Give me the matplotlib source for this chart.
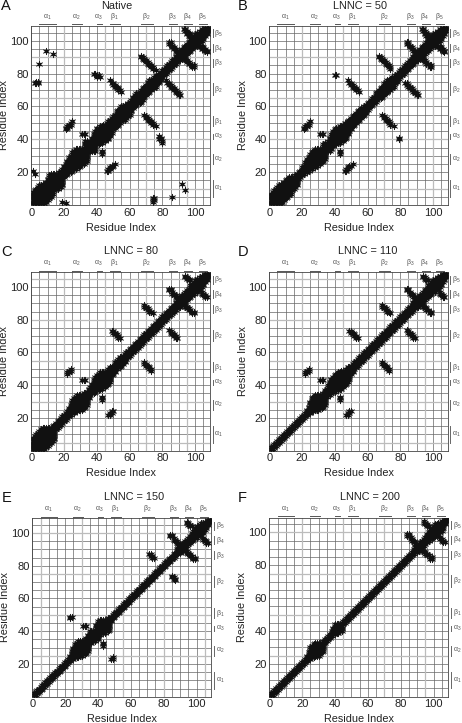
import matplotlib
matplotlib.use("Agg")
import matplotlib.pyplot as plt
import numpy as np

plt.rcParams['font.family'] = ['Liberation Sans', 'DejaVu Sans']
plt.rcParams['mathtext.fontset'] = 'custom'
plt.rcParams['mathtext.rm'] = 'Liberation Sans'
plt.rcParams['mathtext.it'] = 'Liberation Sans'

W, H = 462, 723

titles = ["Native", "LNNC = 50", "LNNC = 80", "LNNC = 110", "LNNC = 150", "LNNC = 200"]
letters = ["A", "B", "C", "D", "E", "F"]

# secondary structure, residue ranges
sec_names = [r"$\alpha_1$", r"$\alpha_2$", r"$\alpha_3$", r"$\beta_1$",
             r"$\beta_2$", r"$\beta_3$", r"$\beta_4$", r"$\beta_5$"]
sec_start = [5, 25, 40, 48, 67, 84, 93, 102]
sec_end = [15, 31, 43, 54, 74, 89, 98, 107]

# how far contacts reach from the diagonal, residues 1..108
upper_reach = [2, 2, 3, 3, 4, 3, 3, 3, 3, 3, 3, 4, 4, 4, 4, 4, 3, 3, 3, 2, 2, 1, 0]
native_reach = [7, 7, 7, 7, 7, 6, 6, 5, 5, 6, 7, 7, 6, 5, 4, 3, 3, 3, 3, 4,
                4, 5, 6, 6, 7, 7, 7, 6, 5, 4, 3, 3, 6, 5, 3, 3, 4, 5, 6, 7,
                6, 6, 5, 5, 4, 4, 4, 4, 4, 4, 4, 5, 5, 5, 5, 4, 4, 3, 3, 3,
                3, 4, 4, 4, 3, 3, 3, 3, 3, 3, 4, 4, 3, 3, 3, 3, 2, 2, 2, 2,
                2, 2, 2, 2, 2] + upper_reach
lnnc50_reach = [6, 6, 6, 6, 6, 6, 6, 5, 5, 5, 5, 5, 4, 3, 2, 2, 2, 2, 2, 3,
                3, 4, 5, 5, 6, 6, 6, 6, 5, 4, 3, 2, 4, 4, 3, 3, 4, 5, 6, 6,
                6, 5, 5, 4, 4, 4, 3, 3, 3, 3, 3, 3, 3, 3, 3, 3, 2, 2, 2, 2,
                2, 2, 2, 2, 3, 3, 3, 3, 3, 4, 4, 4, 3, 3, 3, 2, 2, 2, 2, 2,
                2, 2, 2, 2, 2] + upper_reach
lnnc80_reach = [7, 7, 7, 7, 7, 7, 7, 6, 5, 4, 3, 2, 2, 2, 2, 2, 2, 2, 2, 2,
                2, 2, 3, 4, 6, 6, 6, 6, 5, 4, 3, 3, 2, 2, 3, 3, 4, 5, 6, 6,
                6, 6, 5, 4, 3, 3, 3, 3, 2, 2, 3, 3, 3, 3, 2, 2, 2, 2, 2, 2,
                2, 2, 2, 2, 2, 2, 2, 2, 2, 2, 2, 2, 2, 2, 2, 2, 2, 2, 2, 2,
                2, 2, 2, 2, 2] + upper_reach
lnnc110_reach = [1, 1, 1, 1, 1, 1, 1, 1, 1, 1, 1, 1, 1, 1, 1, 1, 1, 1, 1, 1,
                 1, 1, 2, 3, 5, 6, 6, 6, 5, 4, 3, 2, 2, 3, 3, 4, 5, 6, 6, 6,
                 6, 6, 5, 5, 4, 3, 3, 3, 2, 2, 2, 2, 2, 2, 2, 2, 2, 2, 2, 2,
                 2, 2, 2, 2, 2, 2, 2, 2, 2, 2, 2, 2, 2, 2, 2, 2, 2, 2, 2, 2,
                 2, 2, 2, 2, 2] + upper_reach
lnnc150_reach = [1, 1, 1, 1, 1, 1, 1, 1, 1, 1, 1, 1, 1, 1, 1, 1, 1, 1, 1, 1,
                 1, 1, 2, 4, 5, 6, 6, 6, 5, 4, 3, 2, 3, 4, 5, 4, 3, 3, 5, 6,
                 6, 5, 4, 3, 2, 2, 1, 1, 1, 1, 1, 1, 1, 1, 1, 1, 1, 1, 1, 1,
                 1, 1, 1, 1, 1, 1, 1, 1, 1, 1, 1, 1, 1, 1, 1, 1, 1, 1, 1, 1,
                 1, 1, 1, 1, 1, 1, 1, 2, 3, 3, 2, 2, 2, 2, 2, 2, 3, 3, 4, 4,
                 3, 3, 3, 2, 2, 1, 1, 0]
lnnc200_reach = [1, 1, 1, 1, 1, 1, 1, 1, 1, 1, 1, 1, 1, 1, 1, 1, 1, 1, 1, 1,
                 1, 1, 2, 3, 5, 5, 5, 5, 4, 3, 2, 1, 1, 1, 1, 1, 1, 2, 3, 4,
                 3, 2, 1, 1, 1, 1, 1, 1, 1, 1, 1, 1, 1, 1, 1, 1, 1, 1, 1, 1,
                 1, 1, 1, 1, 1, 1, 1, 1, 1, 1, 1, 1, 1, 1, 1, 1, 1, 1, 1, 1,
                 1, 1, 1, 1, 1, 1, 1, 2, 2, 2, 2, 2, 2, 2, 2, 3, 3, 4, 4, 4,
                 4, 3, 3, 2, 2, 1, 1, 0]
reaches = [native_reach, lnnc50_reach, lnnc80_reach, lnnc110_reach, lnnc150_reach, lnnc200_reach]

# off-diagonal contacts, residue i against residue j (mirrored when drawn)
hairpin_i = [84, 84, 85, 85, 86, 86, 87, 87, 88, 88, 89, 89, 90, 90, 91]
hairpin_j = [99, 98, 99, 98, 97, 96, 96, 95, 95, 94, 94, 93, 93, 92, 92]
sheet45_i = [94, 94, 95, 95, 96, 96, 97]
sheet45_j = [107, 106, 106, 105, 105, 104, 104]
long45_i = [93, 94, 95, 96, 97, 98, 98]
long45_j = [107, 107, 104, 103, 103, 102, 101]

b23_i = [67, 67, 68, 68, 69, 69, 70, 70, 71, 71, 72, 72, 73, 73, 74, 74]
b23_j = [91, 90, 90, 89, 89, 88, 88, 87, 87, 86, 86, 85, 85, 84, 84, 83]
b23_short_i = [69, 69, 70, 70, 71, 71, 72, 72, 73, 74]
b23_short_j = [89, 88, 88, 87, 87, 86, 86, 85, 85, 84]
b23_blob_i = [71, 72, 72, 73, 73, 74]
b23_blob_j = [87, 87, 86, 86, 85, 85]

b12_i = [48, 49, 50, 50, 51, 51, 52, 52, 53, 53, 54, 55]
b12_j = [76, 74, 74, 73, 73, 72, 72, 71, 71, 70, 70, 69]
b12_short_i = [49, 50, 50, 51, 51, 52, 52, 53, 53, 54]
b12_short_j = [73, 73, 72, 72, 71, 71, 70, 70, 69, 69]

a2b1_i = [21, 21, 22, 22, 23, 23, 24, 24, 25]
a2b1_j = [46, 47, 47, 48, 48, 49, 49, 50, 51]
a2b1_short_i = [22, 22, 23, 23, 24, 24]
a2b1_short_j = [47, 48, 48, 49, 49, 50]
a2b1_blob_i = [23, 23, 24]
a2b1_blob_j = [48, 49, 49]

a3_i = [31, 32, 33]
a3_j = [43, 43, 43]

native_extra_i = [38, 39, 40, 41, 42, 40, 2, 3, 4, 3, 4, 5, 9, 13, 1, 2, 76]
native_extra_j = [80, 80, 79, 79, 78, 78, 74, 74, 74, 75, 75, 86, 94, 92, 21, 19, 82]
lnnc50_extra_i = [40, 41]
lnnc50_extra_j = [79, 79]

panel_i = [hairpin_i + long45_i + sheet45_i + b23_i + b12_i + a2b1_i + a3_i + native_extra_i,
           hairpin_i + long45_i + sheet45_i + b23_i + b12_i + a2b1_i + a3_i + lnnc50_extra_i,
           hairpin_i + sheet45_i + b23_short_i + b12_short_i + a2b1_short_i + a3_i,
           hairpin_i + sheet45_i + b23_short_i + b12_short_i + a2b1_short_i + a3_i,
           hairpin_i + sheet45_i + b23_blob_i + a2b1_blob_i + a3_i,
           hairpin_i + sheet45_i]
panel_j = [hairpin_j + long45_j + sheet45_j + b23_j + b12_j + a2b1_j + a3_j + native_extra_j,
           hairpin_j + long45_j + sheet45_j + b23_j + b12_j + a2b1_j + a3_j + lnnc50_extra_j,
           hairpin_j + sheet45_j + b23_short_j + b12_short_j + a2b1_short_j + a3_j,
           hairpin_j + sheet45_j + b23_short_j + b12_short_j + a2b1_short_j + a3_j,
           hairpin_j + sheet45_j + b23_blob_j + a2b1_blob_j + a3_j,
           hairpin_j + sheet45_j]

# grid lines that came out lighter in the original
light_x = [[20, 45, 70, 95], [20, 45, 70, 100], [20, 45, 70, 95],
           [20, 45, 70, 95], [5, 30, 55, 80, 105], [20, 45, 70, 95]]
light_y = [[10, 40, 65, 90], [10, 40, 65, 90], [5, 30, 55, 80, 105],
           [5, 30, 55, 80, 105], [25, 50, 75, 100], [25, 50, 75, 100]]

# layout in pixels
boxes = [(31.3, 210, 26, 205), (269.3, 447.7, 26, 205),
         (31.3, 210, 272.3, 450.7), (269.3, 447.7, 272.3, 450.7),
         (32.3, 211.3, 518.3, 696.7), (269.3, 448.3, 517.7, 696.7)]
title_xy = [(117, 5.7), (360, 5.7), (131, 250.7), (367.7, 251), (134, 497), (370, 497)]
letter_xy = [(1, 6), (238, 6.5), (1.5, 252.5), (238, 252), (1.5, 498), (238, 498)]


def expand(reach):
    xs, ys = [], []
    for n, r in enumerate(reach):
        res = n + 1
        for d in range(r + 1):
            if res + d <= 108:
                xs.append(res)
                ys.append(res + d)
    return xs, ys


fig = plt.figure(figsize=(W / 100, H / 100), dpi=100)

for k in range(6):
    left, right, top, bottom = boxes[k]
    ax = fig.add_axes([left / W, 1 - bottom / H, (right - left) / W, (bottom - top) / H])
    ax.set_xlim(0, 109)
    ax.set_ylim(0, 109)
    ax.set_xticks(np.arange(0, 101, 20))
    ax.set_yticks(np.arange(20, 101, 20))
    ax.set_xticks(np.arange(0, 109, 5), minor=True)
    ax.set_yticks(np.arange(0, 109, 5), minor=True)
    ax.tick_params(which='both', length=0, labelsize=8, pad=2, colors='#222222')
    ax.grid(which='both', color='#666666', lw=0.5)
    ax.set_axisbelow(True)
    for s in ax.spines.values():
        s.set_color('#444444')
        s.set_linewidth(0.6)
    for v in light_x[k]:
        ax.axvline(v, color='#bcbcbc', lw=0.9, zorder=1)
    for v in light_y[k]:
        ax.axhline(v, color='#bcbcbc', lw=0.9, zorder=1)

    xs, ys = expand(reaches[k])
    xs = xs + panel_i[k]
    ys = ys + panel_j[k]
    ax.scatter(xs + ys, ys + xs, marker=(6, 2, 0), s=22, c='#222222', linewidths=0.5,
               zorder=3)
    ax.scatter(xs + ys, ys + xs, marker='o', s=8, c='#111111', linewidths=0, zorder=4)

    ax.set_xlabel("Residue Index", fontsize=7.8, labelpad=3.5, color='#222222')
    ax.set_ylabel("Residue Index", fontsize=7.8, color='#222222')
    ax.yaxis.set_label_coords(-0.122, 0.5)

    xt = ax.get_xaxis_transform()
    yt = ax.get_yaxis_transform()
    for name, a, b in zip(sec_names, sec_start, sec_end):
        ax.plot([a, b], [1.01, 1.01], transform=xt, color='#555555', lw=0.7, clip_on=False)
        ax.text((a + b) / 2 - 0.5, 1.022, name, transform=xt, ha='center', va='bottom',
                fontsize=5, color='#555555')
        ax.plot([1.015, 1.015], [a, b], transform=yt, color='#666666', lw=0.7, clip_on=False)
        ax.text(1.048, (a + b) / 2, name, transform=yt, ha='center', va='center',
                fontsize=5, color='#555555')

    fig.text(title_xy[k][0] / W, 1 - title_xy[k][1] / H, titles[k], ha='center', va='center',
             fontsize=7.8, color='#222222')
    fig.text(letter_xy[k][0] / W, 1 - letter_xy[k][1] / H, letters[k], ha='left', va='center',
             fontsize=10.5, color='#111111')

fig.savefig("out.png", dpi=100)
